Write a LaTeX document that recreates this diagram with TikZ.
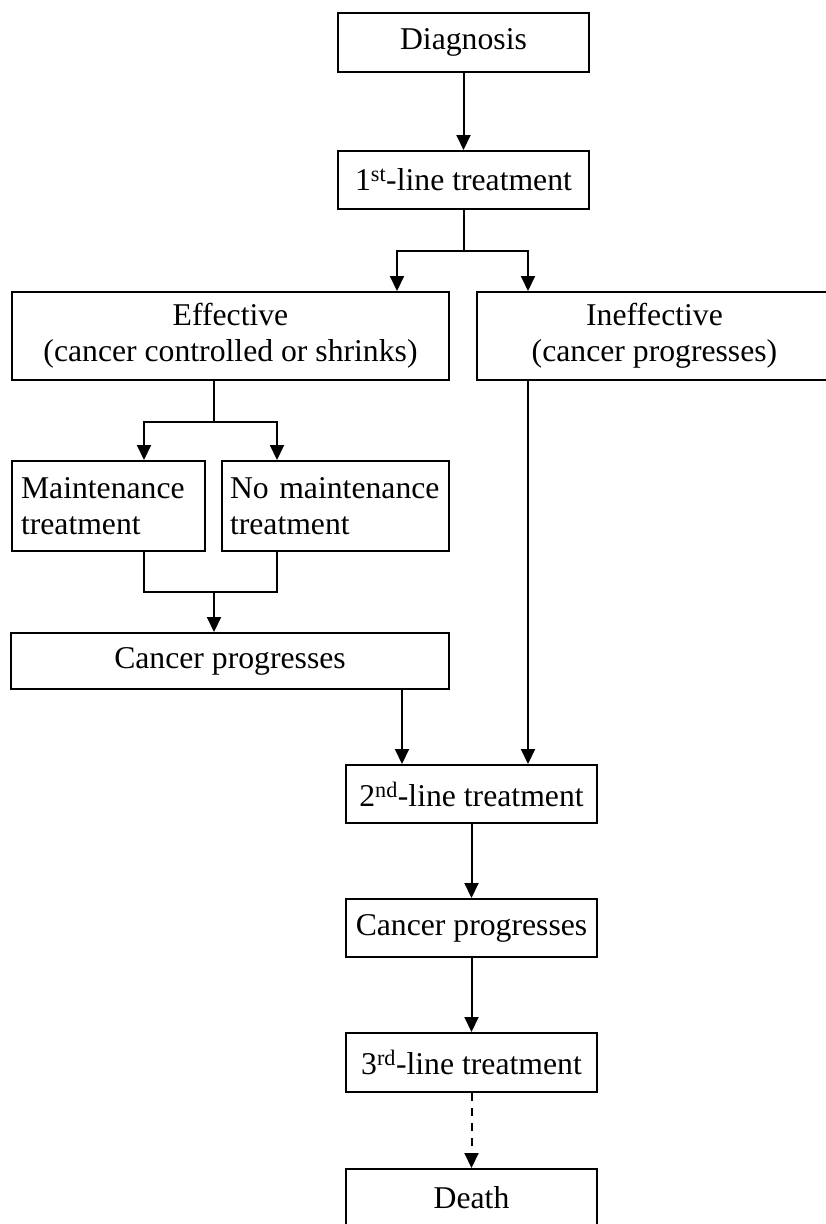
\documentclass[tikz,border=0pt]{standalone}
\usepackage{fontspec}
\setmainfont{Liberation Serif}
\usetikzlibrary{arrows.meta}
\begin{document}
\begin{tikzpicture}[x=1pt,y=-1pt,
  box/.style={draw, line width=2pt, inner ysep=0pt, inner xsep=2pt, align=center,
    font=\fontsize{31.7}{36}\selectfont},
  lbox/.style={box, align=left},
  conn/.style={line width=2pt},
  arr/.style={conn, -{Triangle[length=15pt,width=14pt]}},
  darr/.style={arr, dash pattern=on 8pt off 7pt}]
\useasboundingbox (0,0) rectangle (826,1224);

\node[box, minimum width=251pt, minimum height=59pt] (diag) at (463.5,42.5) {Diagnosis};
\node[box, minimum width=251pt, minimum height=58pt] (first) at (463.5,180) {1\textsuperscript{st}-line treatment};
\node[box, minimum width=437pt, minimum height=88pt] (eff) at (230.5,336) {Effective\\(cancer controlled or shrinks)};
\node[box, minimum width=355pt, minimum height=88pt] (ineff) at (654.5,336) {Ineffective\\(cancer progresses)};
\node[lbox, inner xsep=9pt, minimum width=193pt, minimum height=90pt, text width=175pt] (maint) at (108.5,506) {Maintenance\\treatment};
\node[lbox, inner xsep=8pt, minimum width=227pt, minimum height=90pt, text width=211pt] (nomaint) at (335.5,506) {No maintenance\\treatment};
\node[box, minimum width=438pt, minimum height=56pt] (cp1) at (230,661) {Cancer progresses};
\node[box, minimum width=251pt, minimum height=58pt] (second) at (471.5,794) {2\textsuperscript{nd}-line treatment};
\node[box, minimum width=251pt, minimum height=58pt] (cp2) at (471.5,928) {Cancer progresses};
\node[box, minimum width=251pt, minimum height=59pt] (third) at (471.5,1062.5) {3\textsuperscript{rd}-line treatment};
\node[box, minimum width=251pt, minimum height=58pt] (death) at (471.5,1198) {Death};

\coordinate (j1) at (463.5,251);
\coordinate (b1L) at (397,251);
\coordinate (b1R) at (528,251);
\coordinate (j2) at (214,422);
\coordinate (b2L) at (144,422);
\coordinate (b2R) at (277,422);
\coordinate (j3) at (214,592);
\coordinate (x402) at (402,700);

\draw[arr] (diag.south) -- (first.north);
\draw[arr] (first.south) -- (j1) -| (eff.north -| b1L);
\draw[arr] (first.south) -- (j1) -| (ineff.north -| b1R);

\draw[arr] (eff.south -| j2) -- (j2) -| (maint.north -| b2L);
\draw[arr] (eff.south -| j2) -- (j2) -| (nomaint.north -| b2R);

\draw[conn] (maint.south -| b2L) |- (j3);
\draw[conn] (nomaint.south -| b2R) |- (j3);
\draw[arr] (j3) -- (cp1.north -| j3);

\draw[arr] (cp1.south -| x402) -- (second.north -| x402);
\draw[arr] (ineff.south -| b1R) -- (second.north -| b1R);
\draw[arr] (second.south) -- (cp2.north);
\draw[arr] (cp2.south) -- (third.north);
\draw[darr] (third.south) -- (death.north);
\end{tikzpicture}
\end{document}
